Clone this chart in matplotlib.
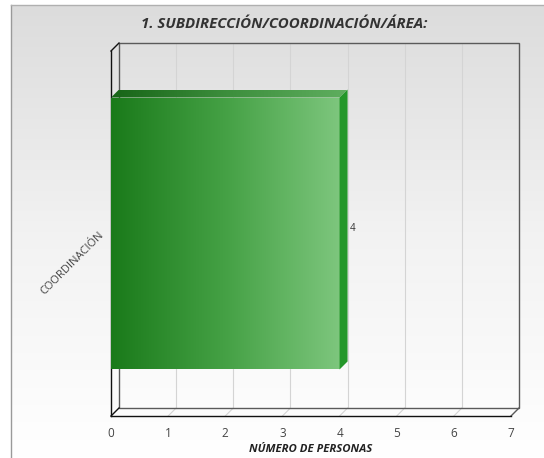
import numpy as np
import matplotlib
matplotlib.use("Agg")
import matplotlib.pyplot as plt
import matplotlib.transforms as mtransforms
from matplotlib.colors import LinearSegmentedColormap
from matplotlib.patches import Polygon, Rectangle
from matplotlib.lines import Line2D

categories = ["COORDINACIÓN"]
values = [4]
x_ticks = [0, 1, 2, 3, 4, 5, 6, 7]
title = "1. SUBDIRECCIÓN/COORDINACIÓN/ÁREA:"
x_label = "NÚMERO DE PERSONAS"

plt.rcParams['font.family'] = ['Open Sans', 'DejaVu Sans']

W, H = 544, 458
fig = plt.figure(figsize=(W / 100, H / 100), dpi=100)
fig.patch.set_facecolor('white')

# panel background (gray -> white)
bg = fig.add_axes([11 / W, 0, 1 - 11 / W, 453 / H], zorder=-10)
bg.axis('off')
bg_cmap = LinearSegmentedColormap.from_list('bg', ['#ffffff', '#f2f2f2', '#dcdcdc'])
bg.imshow(np.linspace(0, 1, 256).reshape(-1, 1), cmap=bg_cmap, aspect='auto',
          extent=[0, 1, 0, 1], origin='lower')
fig.add_artist(Line2D([11 / W, 11 / W], [0, 453 / H], color='#9a9a9a', lw=1))
fig.add_artist(Line2D([11 / W, 1], [453 / H, 453 / H], color='#b0b0b0', lw=1))

# front plane of the chart
ax = fig.add_axes([111 / W, 42 / H, 400 / W, 365 / H])
ax.set_facecolor('none')
ax.set_xlim(0, 7)
ax.set_ylim(-0.5, 0.5)

depth = 8  # pixels
offset = mtransforms.ScaledTranslation(depth / 100, depth / 100, fig.dpi_scale_trans)


def back(x, y, trans):
    p = trans.transform((x, y)) + depth
    return trans.inverted().transform(p)


# back wall + grid
ax.add_patch(Rectangle((0, 0), 1, 1, transform=ax.transAxes + offset, fill=False,
                       ec='#5a5a5a', lw=1, clip_on=False, zorder=1))
for t in x_ticks[1:-1]:
    ax.plot([t, t], [-0.5, 0.5], transform=ax.transData + offset,
            color='#d4d4d4', lw=0.8, zorder=0.5, clip_on=False)
    bx, by = back(t, -0.5, ax.transData)
    ax.plot([t, bx], [-0.5, by], color='#d4d4d4', lw=0.8, zorder=0.5, clip_on=False)

# corner diagonals of the box
for cx, cy in [(0, 1), (0, 0), (1, 0)]:
    bx, by = back(cx, cy, ax.transAxes)
    col = '#111111' if cx == 0 else '#5a5a5a'
    ax.plot([cx, bx], [cy, by], transform=ax.transAxes, color=col, lw=1,
            clip_on=False, zorder=3)

# bar
bar_h = 0.745
bars = ax.barh(categories, values, height=bar_h, color='none', zorder=4)
front_cmap = LinearSegmentedColormap.from_list('front', ['#1a7a1a', '#45a145', '#7dc67d'])
top_cmap = LinearSegmentedColormap.from_list('top', ['#176417', '#3d8f3d', '#5fae5f'])
grad = np.linspace(0, 1, 256).reshape(1, -1)
for rect, v in zip(bars, values):
    y0 = rect.get_y()
    y1 = y0 + rect.get_height()
    img = ax.imshow(grad, cmap=front_cmap, aspect='auto',
                    extent=[0, v, y0, y1], zorder=4)
    img.set_clip_path(rect)
    # top face
    tl = back(0, y1, ax.transData)
    tr = back(v, y1, ax.transData)
    top = Polygon([(0, y1), (v, y1), tr, tl], closed=True, fc='none', ec='none',
                  transform=ax.transData)
    ax.add_patch(top)
    timg = ax.imshow(grad, cmap=top_cmap, aspect='auto',
                     extent=[0, tr[0], y1, tr[1]], zorder=4)
    timg.set_clip_path(top)
    # right face
    br = back(v, y0, ax.transData)
    ax.add_patch(Polygon([(v, y0), (v, y1), tr, br], closed=True, fc='#24972a',
                         ec='none', zorder=4))
    ax.annotate(str(v), (v, 0), xytext=(10, 5), textcoords='offset pixels',
                ha='left', va='center', fontsize=7, color='#333333', zorder=5)

ax.set_xlim(0, 7)
ax.set_ylim(-0.5, 0.5)

for s in ['top', 'right']:
    ax.spines[s].set_visible(False)
for s in ['left', 'bottom']:
    ax.spines[s].set_color('#111111')
    ax.spines[s].set_linewidth(1)
    ax.spines[s].set_zorder(3)

ax.set_xticks(x_ticks)
ax.set_xticklabels([str(t) for t in x_ticks])
ax.tick_params(axis='x', length=0, pad=8, labelsize=8.5, labelcolor='#444444')
ax.tick_params(axis='y', length=0, pad=6, labelsize=8, labelcolor='#444444')
for lab in ax.get_yticklabels():
    lab.set_rotation(45)
    lab.set_ha('right')
    lab.set_va('center')
    lab.set_rotation_mode('anchor')

ax.set_xlabel(x_label, fontsize=8.2, fontweight='bold', fontstyle='italic',
              color='#222222', labelpad=3)

fig.text(284 / W, 1 - 24 / H, title, ha='center', va='center', fontsize=10.8,
         fontweight='bold', fontstyle='italic', color='#333333')

fig.savefig('out.png', dpi=100)
